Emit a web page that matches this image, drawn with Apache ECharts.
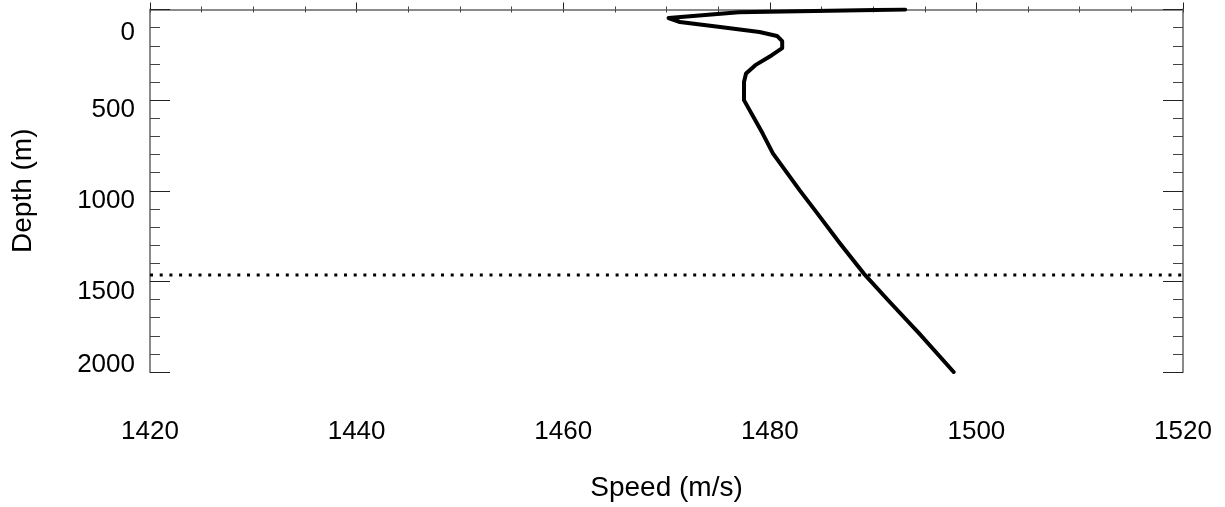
<!DOCTYPE html>
<html>
<head>
<meta charset="utf-8">
<script src="https://cdn.jsdelivr.net/npm/echarts@6/dist/echarts.min.js"></script>
<style>
html,body{margin:0;padding:0;background:#fff;}
#chart{width:1225px;height:507px;}
</style>
</head>
<body>
<div id="chart"></div>
<script>
// Sound speed profile
const depth = [0, 15, 47, 69, 97, 124, 146, 175, 213, 252, 307, 353, 400, 500, 683, 794, 998, 1125, 1291, 1457, 1607, 1790, 2000];
const speed = [1493.1, 1477.0, 1470.2, 1471.3, 1475.2, 1479.0, 1480.7, 1481.2, 1481.2, 1480.2, 1478.6, 1477.7, 1477.5, 1477.5, 1479.3, 1480.3, 1482.9, 1484.6, 1486.8, 1489.1, 1491.5, 1494.5, 1497.8];
const refDepth = 1465;
const xTickLabels = [1420, 1440, 1460, 1480, 1500, 1520];
const yTickLabels = [0, 500, 1000, 1500, 2000];
const xName = 'Speed (m/s)';
const yName = 'Depth (m)';

const FONT = 'Liberation Sans, Arial, sans-serif';
const frame = {show: true, lineStyle: {color: '#8a8a8a', width: 2}};
const chart = echarts.init(document.getElementById('chart'));

const profile = speed.map((s, i) => [s, depth[i]]);
const xMin = xTickLabels[0], xMax = xTickLabels[xTickLabels.length - 1];
const refLine = [[xMin, refDepth], [xMax, refDepth]];

chart.setOption({
  animation: false,
  backgroundColor: '#fff',
  grid: {left: 150, right: 42, top: 9.5, bottom: 135, containLabel: false},
  xAxis: [
    {
      type: 'value', position: 'bottom', min: xMin, max: xMax, interval: 20,
      name: xName, nameLocation: 'middle', nameGap: 102,
      nameTextStyle: {fontFamily: FONT, fontSize: 28, color: '#000'},
      axisLine: frame,
      axisTick: {show: true, inside: true, length: 7, lineStyle: {color: '#222', width: 1}},
      minorTick: {show: true, splitNumber: 4, length: 3, lineStyle: {color: '#444', width: 1}},
      splitLine: {show: false}, minorSplitLine: {show: false},
      axisLabel: {show: true, margin: 47, fontFamily: FONT, fontSize: 26, color: '#000',
        formatter: v => xTickLabels.includes(v) ? String(v) : ''}
    },
    {
      type: 'value', position: 'top', min: xMin, max: xMax, interval: 5,
      axisLine: frame,
      axisTick: {show: true, inside: true, length: 3, lineStyle: {color: '#444', width: 1}},
      splitLine: {show: false},
      axisLabel: {show: false}
    }
  ],
  yAxis: [
    {
      type: 'value', position: 'left', inverse: true, min: 0, max: 2000, interval: 500,
      name: yName, nameLocation: 'middle', nameGap: 113, nameRotate: 90,
      nameTextStyle: {fontFamily: FONT, fontSize: 28, color: '#000'},
      axisLine: frame,
      axisTick: {show: true, inside: true, length: 20, lineStyle: {color: '#222', width: 1}},
      minorTick: {show: true, splitNumber: 5, length: 10, lineStyle: {color: '#444', width: 1}},
      splitLine: {show: false}, minorSplitLine: {show: false},
      axisLabel: {
        show: true, margin: 15, fontFamily: FONT, fontSize: 26, color: '#000',
        formatter: v => {
          if (!yTickLabels.includes(v)) return '';
          if (v === 0) return '{z|' + v + '}';
          if (v === 2000) return '{e|' + v + '}';
          return '{m|' + v + '}';
        },
        rich: {
          z: {fontFamily: FONT, fontSize: 26, color: '#000', padding: [47, 0, 0, 0]},
          m: {fontFamily: FONT, fontSize: 26, color: '#000', padding: [20, 0, 0, 0]},
          e: {fontFamily: FONT, fontSize: 26, color: '#000', padding: [0, 0, 15, 0]}
        }
      }
    },
    {
      type: 'value', position: 'right', inverse: true, min: 0, max: 2000, interval: 500,
      axisLine: frame,
      axisTick: {show: true, inside: true, length: 20, lineStyle: {color: '#222', width: 1}},
      minorTick: {show: true, splitNumber: 5, length: 10, lineStyle: {color: '#444', width: 1}},
      splitLine: {show: false}, minorSplitLine: {show: false},
      axisLabel: {show: false}
    }
  ],
  series: [
    {
      type: 'line', xAxisIndex: 0, yAxisIndex: 0, data: refLine,
      showSymbol: false, symbol: 'none', silent: true,
      lineStyle: {color: '#000', width: 3, type: [3, 6.7], cap: 'butt'}
    },
    {
      type: 'line', xAxisIndex: 0, yAxisIndex: 0, data: profile,
      showSymbol: false, symbol: 'none', silent: true,
      lineStyle: {color: '#000', width: 4, join: 'round', cap: 'round'}
    }
  ]
});
</script>
</body>
</html>
